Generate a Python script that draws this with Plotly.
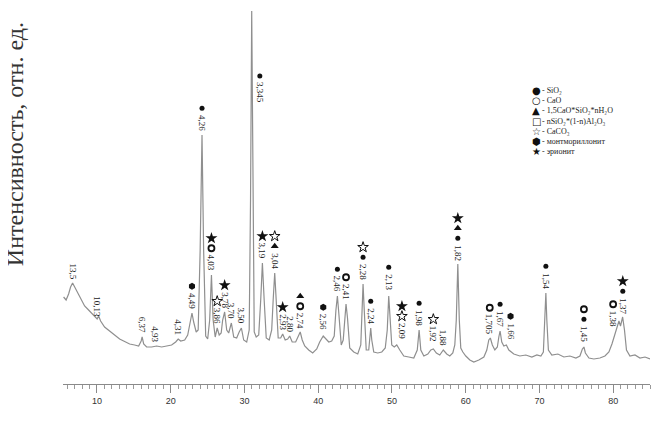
import plotly.graph_objects as go

# diffraction scan: 2theta (deg) and intensity (arb. units)
tth = [5.48, 5.82, 6.16, 6.43, 6.70, 6.97, 7.38, 7.79, 8.33, 8.74, 9.21, 9.69,
       10.03, 10.23, 10.50, 11.04, 11.72, 12.40, 13.08, 13.76, 14.44, 15.11,
       15.66, 16.00, 16.13, 16.34, 16.74, 17.42, 18.10, 18.78, 19.46, 20.13,
       20.68, 21.02, 21.36, 21.90, 22.31, 22.64, 22.89, 23.12, 23.46, 23.73,
       24.00, 24.25, 24.47, 24.75, 25.02, 25.29, 25.53, 25.76, 26.04, 26.31,
       26.58, 26.85, 27.05, 27.32, 27.60, 27.87, 28.23, 28.55, 28.95, 29.29,
       29.59, 29.90, 30.31, 30.65, 30.83, 30.99, 31.15, 31.33, 31.60, 31.94,
       32.21, 32.44, 32.68, 32.96, 33.36, 33.70, 33.90, 34.11, 34.31, 34.58,
       34.92, 35.19, 35.53, 35.87, 36.14, 36.48, 36.95, 37.29, 37.57, 37.84,
       38.18, 38.72, 39.26, 39.81, 40.21, 40.69, 41.03, 41.44, 41.84, 42.18,
       42.41, 42.61, 42.82, 43.13, 43.40, 43.60, 43.78, 43.98, 44.28, 44.83,
       45.37, 45.78, 45.94, 46.09, 46.25, 46.52, 46.86, 47.02, 47.13, 47.27,
       47.54, 48.09, 48.63, 49.10, 49.37, 49.57, 49.78, 49.98, 50.32, 50.66,
       51.07, 51.61, 52.29, 52.97, 53.44, 53.69, 53.92, 54.33, 54.87, 55.28,
       55.62, 56.03, 56.49, 56.97, 57.44, 57.85, 58.26, 58.53, 58.73, 58.94,
       59.14, 59.34, 59.62, 60.02, 60.57, 61.11, 61.79, 62.47, 62.87, 63.14,
       63.35, 63.62, 63.96, 64.30, 64.50, 64.67, 64.90, 65.18, 65.52, 65.86,
       66.53, 67.35, 68.16, 68.98, 69.66, 70.20, 70.54, 70.74, 70.88, 71.01,
       71.22, 71.69, 72.51, 73.32, 74.14, 74.95, 75.50, 75.83, 76.04, 76.24,
       76.72, 77.39, 78.21, 78.89, 79.43, 79.84, 80.18, 80.52, 80.79, 81.00,
       81.29, 81.54, 81.81, 82.28, 82.96, 83.64, 84.32, 85.00]
intensity = [87, 84, 90, 97, 101, 97, 91, 85, 78, 75, 71, 67,
             65, 68, 63, 57, 53, 49, 45, 42.5, 40, 39,
             38, 43, 47, 40, 37, 37, 38, 37, 38, 39,
             42, 45, 43, 44, 49, 62, 71, 62, 52, 54,
             134, 249, 134, 48, 45, 64, 109, 64, 47, 56,
             49, 51, 64, 72, 54, 51, 61, 47, 46, 52,
             56, 44, 42, 54, 184, 373, 184, 52, 47, 49,
             84, 121, 84, 46, 44, 54, 84, 111, 84, 46,
             46, 50, 44, 45, 48, 42, 42, 48, 52, 44,
             38, 34, 31, 35, 42, 48, 45, 42, 43, 48,
             74, 88, 69, 39, 44, 69, 80, 66, 36, 32,
             30, 39, 74, 100, 74, 34, 34, 44, 56, 44,
             32, 31, 32, 36, 54, 88, 59, 39, 37, 39,
             34, 28, 27, 26, 34, 54, 34, 28, 30, 34,
             35, 31, 29, 34, 30, 28, 31, 39, 64, 120,
             64, 36, 32, 28, 24, 22, 24, 27, 34, 44,
             46, 39, 34, 37, 47, 53, 42, 38, 39, 34,
             30, 28, 29, 27, 29, 28, 32, 64, 91, 64,
             34, 29, 30, 27, 28, 26, 28, 35, 37, 31,
             26, 25, 26, 28, 32, 40, 48, 56, 63, 58,
             67, 54, 34, 28, 29, 26, 27, 25]

# marked reflections: position, height of the peak under the label, d (A), phases
peak_tth = [6.70, 10.03, 16.13, 17.83, 20.95, 22.89, 24.25, 25.53, 26.31, 27.32,
            28.23, 29.59, 30.99, 32.44, 34.11, 35.19, 36.14, 37.57, 40.69, 42.61,
            43.78, 46.09, 47.13, 49.57, 51.36, 53.69, 55.62, 56.97, 58.94, 63.27,
            64.67, 66.09, 70.88, 76.04, 80.00, 81.31]
peak_int = [101, 63, 47, 38, 45, 71, 249, 109, 56, 72,
            61, 56, 373, 121, 111, 50, 48, 51, 50, 88,
            80, 100, 56, 90, 41, 54, 38, 34, 119, 45,
            53, 41, 91, 38, 53, 66]
peak_d = ["13,5", "10,13", "6,37", "4,93", "4,31", "4,49", "4,26", "4,03", "3,86", "3,78",
          "3,70", "3,50", "3,345", "3,19", "3,04", "2,93", "2,80", "2,74", "2,56", "2,46",
          "2,41", "2,28", "2,24", "2,13", "2,09", "1,98", "1,92", "1,88", "1,82", "1,705",
          "1,67", "1,66", "1,54", "1,45", "1,38", "1,37"]
peak_phases = [[], [], [], [], [], ["mont"], ["SiO2"], ["CaO", "erio"], ["CaCO3"], ["erio"],
               [], [], ["SiO2"], ["erio"], ["CSH", "CaCO3"], ["erio"], [], ["CaO", "CSH"],
               ["mont"], ["SiO2"],
               ["CaO"], ["SiO2", "CaCO3"], ["SiO2"], ["SiO2"], ["CaCO3", "erio"], ["SiO2"],
               ["CaCO3"], [], ["SiO2", "CSH", "erio"], ["CaO"],
               ["SiO2"], ["mont"], ["SiO2"], ["SiO2", "CaO"], ["CaO"], ["SiO2", "erio"]]

phase_keys = ["SiO2", "CaO", "CSH", "AS", "CaCO3", "mont", "erio"]
phase_names = ["SiO₂", "CaO", "1,5CaO*SiO₂*nH₂O", "nSiO₂*(1-n)Al₂O₃", "CaCO₃",
               "монтмориллонит", "эрионит"]

markers = {
    "SiO2": dict(symbol="circle", size=5, color="#111"),
    "CaO": dict(symbol="circle-open", size=6, color="#111", line=dict(width=1.8, color="#111")),
    "CSH": dict(symbol="triangle-up", size=7, color="#111"),
    "AS": dict(symbol="square-open", size=6, color="#111", line=dict(width=1.8, color="#111")),
    "CaCO3": dict(symbol="star-open", size=8, color="#111", line=dict(width=1, color="#111")),
    "mont": dict(symbol="hexagon", size=7, color="#111"),
    "erio": dict(symbol="star", size=9, color="#111"),
}
legend_glyphs = ["●", "<b>○</b>", "▲", "<b>□</b>", "☆", "⬢", "★"]

LABEL_SIZE = 9
SERIF = "Liberation Serif, Times New Roman, DejaVu Serif, serif"


def label_len(txt):
    # rough length of a rotated d-value label, in px (= intensity units here)
    return LABEL_SIZE * sum(0.25 if c == "," else 0.5 for c in txt) + 2


fig = go.Figure()
fig.add_trace(go.Scatter(x=tth, y=intensity, mode="lines",
                         line=dict(color="#8f8f8f", width=1.2),
                         hoverinfo="skip", showlegend=False))

annotations = []
sym_x = {k: [] for k in phase_keys}
sym_y = {k: [] for k in phase_keys}
top = max(intensity)
for t, h, d, ph in zip(peak_tth, peak_int, peak_d, peak_phases):
    lx, base = t, h + 3
    if h >= top:
        # the strongest line runs off the top, so its label sits beside it
        lx, base = t + 1.1, 0.75 * h
    annotations.append(dict(x=lx, y=base, text=d, textangle=90, showarrow=False,
                            xanchor="center", yanchor="bottom", borderpad=0,
                            font=dict(family=SERIF, size=LABEL_SIZE, color="#222")))
    y0 = base + label_len(d) + 6
    for k, p in enumerate(ph):
        sym_x[p].append(lx)
        sym_y[p].append(y0 + 10 * k)

for key in phase_keys:
    fig.add_trace(go.Scatter(x=sym_x[key], y=sym_y[key], mode="markers",
                             marker=markers[key], hoverinfo="skip", showlegend=False))

# hand-made compact legend, one row per phase
row_top, row_step = 0.785, 10.2 / 374
for i, (g, n) in enumerate(zip(legend_glyphs, phase_names)):
    yy = row_top - i * row_step
    annotations.append(dict(x=0.806, y=yy, xref="paper", yref="paper", showarrow=False,
                            xanchor="center", yanchor="middle", text=g, borderpad=0,
                            font=dict(family="DejaVu Sans", size=10, color="#111")))
    annotations.append(dict(x=0.815, y=yy, xref="paper", yref="paper", showarrow=False,
                            xanchor="left", yanchor="middle", text="- " + n, borderpad=0,
                            font=dict(family=SERIF, size=8, color="#222")))

annotations.append(dict(x=-0.0826, y=0.64, xref="paper", yref="paper", showarrow=False,
                        xanchor="center", yanchor="middle", textangle=-90, borderpad=0,
                        text="Интенсивность, отн. ед.",
                        font=dict(family=SERIF, size=24, color="#333")))

# the page body adds 8 px on the left and top, so the figure is 8 px smaller
fig.update_layout(
    width=655, height=417,
    margin=dict(l=55, r=13, t=2, b=41),
    paper_bgcolor="white", plot_bgcolor="white",
    annotations=annotations,
    xaxis=dict(
        range=[5.4, 85], tick0=0, dtick=10,
        showline=True, linecolor="#8a8a8a", linewidth=1,
        ticks="outside", ticklen=8, tickcolor="#8a8a8a",
        minor=dict(dtick=1, ticks="outside", ticklen=4, tickcolor="#9a9a9a"),
        showgrid=False, zeroline=False,
        tickfont=dict(family="Liberation Sans", size=9, color="#333"),
    ),
    yaxis=dict(range=[0, 374], visible=False),
)

fig.write_html("out.html")
